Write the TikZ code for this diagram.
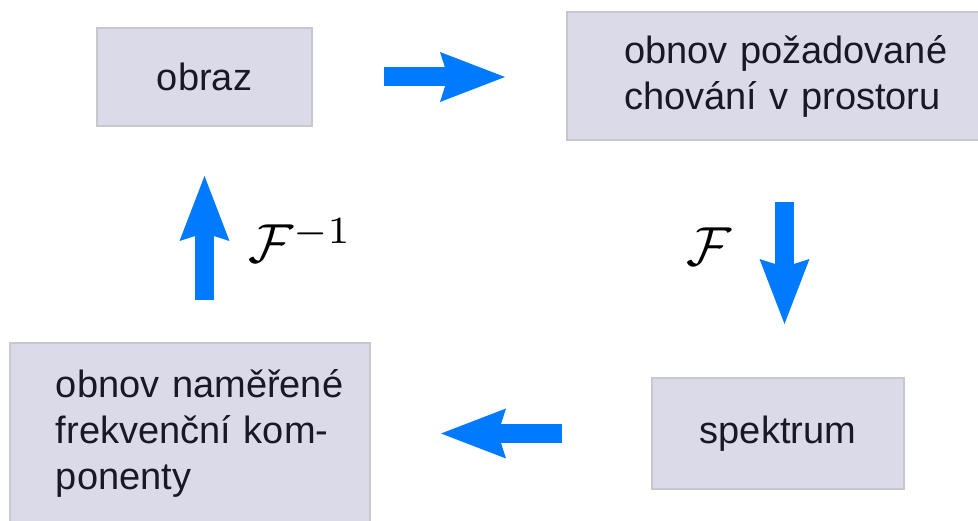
\documentclass[tikz,border=0pt]{standalone}
\usepackage{fontspec}
\setmainfont{Liberation Sans}
\usepackage{graphicx}
\usepackage{tikz}
\usetikzlibrary{positioning,arrows.meta}

\definecolor{boxfill}{RGB}{218,218,232}
\definecolor{boxline}{RGB}{200,200,204}
\definecolor{textcol}{RGB}{24,24,38}
\definecolor{arrowblue}{RGB}{0,122,255}

\newcommand{\opsize}[1]{\scalebox{5.5}{$#1$}}

\tikzset{
  block/.style={draw=boxline, fill=boxfill, line width=2pt, text=textcol, inner sep=0pt, font=\fontsize{38}{46}\selectfont},
  flow/.style={draw=arrowblue, line width=19pt, -{Stealth[length=65pt,width=50pt,inset=8pt,line width=0pt]}},
  opname/.style={inner sep=0pt, font=\fontsize{10}{12}\selectfont}
}

\begin{document}
\begin{tikzpicture}[x=1pt,y=-1pt]
\useasboundingbox (0,0) rectangle (978,521);
\clip (0,0) rectangle (978,521);
\node[block, minimum width=215pt, minimum height=98pt] (obraz) at (204.5,77) {obraz};
\node[block, anchor=north west, align=left, text width=330pt, inner xsep=57pt, minimum height=128pt] (chovani) at (566,11) {obnov požadované\\chování v prostoru};
\node[block, minimum width=252pt, minimum height=111pt] (spektrum) at (778,433.5) {spektrum};
\node[block, anchor=north west, align=left, text width=268pt, inner xsep=46pt, minimum height=180pt] (komponenty) at (9,342) {\mbox{obnov naměřené}\\\mbox{frekvenční kom-}\\ponenty};
\draw[flow, shorten <=71pt, shorten >=61pt] (obraz.east) -- (obraz.east -| chovani.west);
\draw[flow, shorten <=61pt, shorten >=53pt] ([xshift=6.5pt]spektrum.north |- chovani.south) -- ([xshift=6.5pt]spektrum.north);
\draw[flow, shorten <=89pt, shorten >=70pt] (spektrum.west) -- (spektrum.west -| komponenty.east);
\draw[flow, shorten <=42pt, shorten >=49pt] (obraz.south |- komponenty.north) -- (obraz.south);
\node[opname, anchor=base west] (f) at (686,266) {\opsize{\mathcal{F}}};
\node[opname, anchor=base west] (finv) at (248,263) {\opsize{\mathcal{F}^{-1}}};
\end{tikzpicture}
\end{document}
